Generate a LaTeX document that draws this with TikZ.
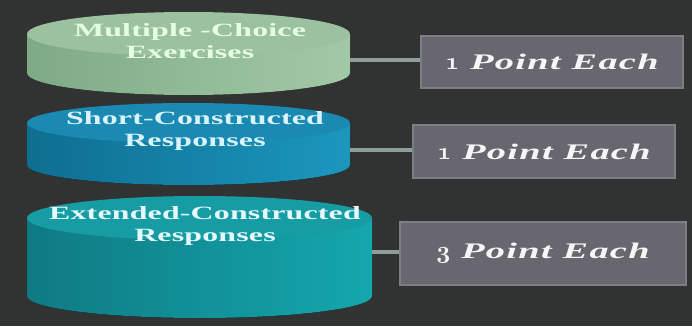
\documentclass[tikz,border=0pt]{standalone}
\usepackage{fontspec}
\usetikzlibrary{positioning}
\newfontfamily\cylfont[FakeStretch=1.7, LetterSpace=1]{Liberation Serif}
\newfontfamily\boxfont[FakeStretch=1.72, LetterSpace=6]{Liberation Serif}
\newcommand{\osnum}[1]{{\usefont{OML}{cmm}{b}{it}\fontsize{21}{21}\selectfont#1}}
\definecolor{bg}{HTML}{313232}
\definecolor{GreenDark}{HTML}{7FAA86}
\definecolor{GreenLight}{HTML}{A2C9A6}
\definecolor{GreenTop}{HTML}{9CC19F}
\definecolor{BlueDark}{HTML}{0E6E90}
\definecolor{BlueLight}{HTML}{1B97BE}
\definecolor{BlueTop}{HTML}{1A8AB2}
\definecolor{TealDark}{HTML}{0F7A82}
\definecolor{TealLight}{HTML}{14A7AD}
\definecolor{TealTop}{HTML}{169CA3}
\definecolor{BoxFill}{HTML}{68676F}
\definecolor{BoxLine}{HTML}{7E7E86}
\definecolor{LinkGray}{HTML}{8E9C9A}

\tikzset{
  ptbox/.style={draw=BoxLine, line width=1pt, fill=BoxFill, text=white!93!gray,
    font=\boxfont\fontsize{19}{21}\selectfont\bfseries\itshape, inner sep=0pt},
  cyltext/.style={align=center, font=\cylfont\fontsize{16}{19}\selectfont\bfseries},
  link/.style={LinkGray, line width=3.5pt}
}

\begin{document}
\begin{tikzpicture}[x=0.03cm, y=0.03cm]
	\fill[bg] (0,0) rectangle (692,326);
	
	% multiple choice cylinder
	\fill[left color=GreenDark, right color=GreenLight] (27,292) -- (27,253) arc[start angle=180, end angle=360, x radius=161.5, y radius=22] -- (350,292) -- cycle;
	\fill[GreenTop] (188.5,292) ellipse [x radius=161.5, y radius=22];
	\node[cyltext, text=green!10!white] (mce) at (190,285) {Multiple -Choice\\Exercises};
	
	% short constructed cylinder
	\fill[left color=BlueDark, right color=BlueLight] (27,203) -- (27,161) arc[start angle=180, end angle=360, x radius=161.5, y radius=20] -- (350,203) -- cycle;
	\fill[BlueTop] (188.5,203) ellipse [x radius=161.5, y radius=20];
	\node[cyltext, text=cyan!15!white] (scr) at (195,195) {Short-Constructed\\Responses};
	
	% extended constructed cylinder
	\fill[left color=TealDark, right color=TealLight] (27,108) -- (27,30) arc[start angle=180, end angle=360, x radius=172.5, y radius=22] -- (372,108) -- cycle;
	\fill[TealTop] (199.5,108) ellipse [x radius=172.5, y radius=22];
	\node[cyltext, text=cyan!10!white] (ecr) at (205,100) {Extended-Constructed\\Responses};
	
	% point boxes
	\node[ptbox, minimum width=7.86cm, minimum height=1.56cm] (pt1) at (552,264) {\osnum{1} Point Each};
	\node[ptbox, minimum width=7.86cm, minimum height=1.59cm] (pt2) at (544,174.5) {\osnum{1} Point Each};
	\node[ptbox, minimum width=8.58cm, minimum height=1.89cm] (pt3) at (543,72.5) {\osnum{3} Point Each};
	
	\coordinate (c1) at (350,266);
	\coordinate (c2) at (350,176);
	\coordinate (c3) at (372,74);
	
	\draw[link] (c1) -- (c1 -| pt1.west);
	\draw[link] (c2) -- (c2 -| pt2.west);
	\draw[link] (c3) -- (c3 -| pt3.west);
\end{tikzpicture}
\end{document}
